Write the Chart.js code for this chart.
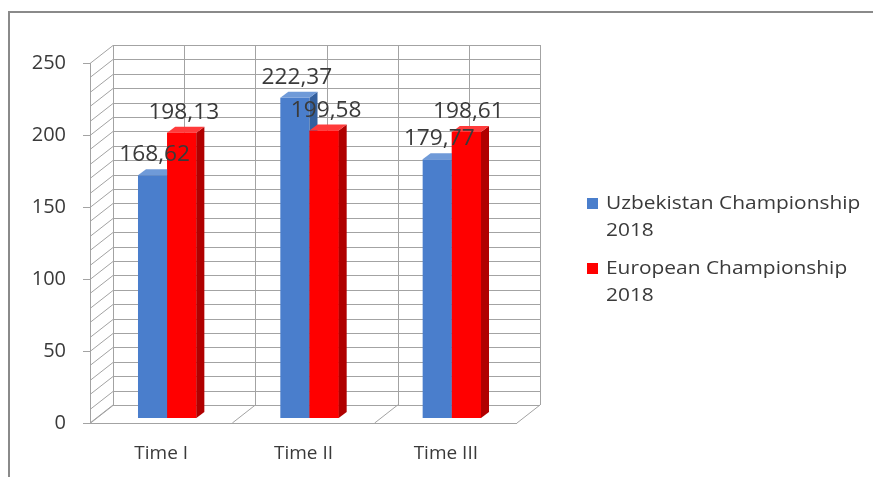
<!DOCTYPE html>
<html>
<head>
<meta charset="utf-8">
<script src="https://cdn.jsdelivr.net/npm/chart.js@4.4.0/dist/chart.umd.min.js"></script>
<style>
  html, body { margin: 0; padding: 0; background: #fff; }
  #wrap { width: 873px; height: 477px; }
</style>
</head>
<body>
<div id="wrap"><canvas id="chart" width="873" height="477"></canvas></div>
<script>
// Data
const categories = ["Time I", "Time II", "Time III"];
const uzbekistan2018 = [168.62, 222.37, 179.77];
const european2018 = [198.13, 199.58, 198.61];
const seriesLabels = [["Uzbekistan Championship", "2018"], ["European Championship", "2018"]];
const yMin = 0, yMax = 250, yMajor = 50, yMinor = 10;

// Styles
const FONT = "'Open Sans', sans-serif";
const TEXT = "#3a3a3a";
const GRID = "#a3a3a3";
const FRONT = ["#4a7ecc", "#ff0000"];
const SIDE = ["#34609e", "#b00000"];
const TOP = ["#6f9ad8", "#ff3b3b"];
// wall depth, bar plane shift, bar depth
const DX = 23, DY = -18;
const BX = 6, BY = -5;
const PX = 8, PY = -6;

const fmt = v => v.toFixed(2).replace(".", ",");

const line = (ctx, x1, y1, x2, y2) => {
  ctx.beginPath();
  ctx.moveTo(x1, y1);
  ctx.lineTo(x2, y2);
  ctx.stroke();
};

// text stretched a bit wider, like the original picture
const wideText = (ctx, t, x, y, sx) => {
  ctx.save();
  ctx.translate(x, y);
  ctx.scale(sx, 1);
  ctx.fillText(t, 0, 0);
  ctx.restore();
};

const box3d = {
  id: "box3d",
  beforeDraw(chart) {
    const ctx = chart.ctx;
    ctx.save();
    ctx.fillStyle = "#fff";
    ctx.fillRect(0, 0, chart.width, chart.height);
    // outer frame
    ctx.strokeStyle = "#8a8a8a";
    ctx.lineWidth = 2;
    line(ctx, 9, 12, 9, chart.height);
    line(ctx, 8, 12, chart.width, 12);
    ctx.restore();
  },
  beforeDatasetsDraw(chart) {
    const ctx = chart.ctx, ca = chart.chartArea, ys = chart.scales.y;
    const n = categories.length, w = (ca.right - ca.left) / n;
    const y0 = ys.getPixelForValue(yMin), yTop = ys.getPixelForValue(yMax);
    ctx.save();
    ctx.strokeStyle = GRID;
    ctx.lineWidth = 1;
    // back wall + left wall horizontals
    for (let v = yMin; v <= yMax; v += yMinor) {
      const y = Math.round(ys.getPixelForValue(v)) + 0.5;
      line(ctx, ca.left + DX, y + DY, ca.right + DX, y + DY);
      line(ctx, ca.left, y, ca.left + DX, y + DY);
    }
    // back wall verticals (category edges and centers)
    for (let k = 0; k <= 2 * n; k++) {
      const x = Math.round(ca.left + k * w / 2 + DX) + 0.5;
      line(ctx, x, yTop + DY, x, y0 + DY);
    }
    // floor
    line(ctx, ca.left, y0 + 0.5, ca.right, y0 + 0.5);
    for (let k = 0; k <= n; k++) {
      const x = ca.left + k * w;
      line(ctx, x, y0, x + DX, y0 + DY);
    }
    // front left edge and ticks
    line(ctx, ca.left + 0.5, yTop, ca.left + 0.5, y0);
    for (let v = yMin; v <= yMax; v += yMajor) {
      const y = Math.round(ys.getPixelForValue(v)) + 0.5;
      line(ctx, ca.left - 7, y, ca.left, y);
    }
    ctx.restore();
    ctx.save();
    ctx.translate(BX, BY);
  },
  afterDatasetsDraw(chart) {
    const ctx = chart.ctx;
    const metas = [chart.getDatasetMeta(0), chart.getDatasetMeta(1)];
    categories.forEach((c, i) => {
      metas.forEach((meta, d) => {
        const p = meta.data[i].getProps(["x", "y", "width", "base"], true);
        const x0 = p.x - p.width / 2, x1 = p.x + p.width / 2;
        if (d === 1) {
          ctx.fillStyle = FRONT[d];
          ctx.fillRect(x0, p.y, p.width, p.base - p.y);
        }
        ctx.fillStyle = SIDE[d];
        ctx.beginPath();
        ctx.moveTo(x1, p.y);
        ctx.lineTo(x1 + PX, p.y + PY);
        ctx.lineTo(x1 + PX, p.base + PY);
        ctx.lineTo(x1, p.base);
        ctx.closePath();
        ctx.fill();
        ctx.fillStyle = TOP[d];
        ctx.beginPath();
        ctx.moveTo(x0, p.y);
        ctx.lineTo(x0 + PX, p.y + PY);
        ctx.lineTo(x1 + PX, p.y + PY);
        ctx.lineTo(x1, p.y);
        ctx.closePath();
        ctx.fill();
      });
    });
    // value labels
    ctx.fillStyle = TEXT;
    ctx.font = "21px " + FONT;
    ctx.textAlign = "center";
    ctx.textBaseline = "middle";
    metas.forEach((meta, d) => {
      const vals = chart.data.datasets[d].data;
      meta.data.forEach((el, i) => {
        wideText(ctx, fmt(vals[i]), el.x + 2, el.y - 20, 1.08);
      });
    });
    ctx.restore();
  },
  afterDraw(chart) {
    const ctx = chart.ctx;
    ctx.save();
    ctx.font = "19px " + FONT;
    ctx.textBaseline = "middle";
    ctx.textAlign = "left";
    const tops = [204, 269];
    seriesLabels.forEach((lines, d) => {
      ctx.fillStyle = FRONT[d];
      ctx.fillRect(587, tops[d] - 6, 11, 11);
      ctx.fillStyle = TEXT;
      lines.forEach((t, j) => wideText(ctx, t, 606, tops[d] + j * 27, 1.1));
    });
    ctx.restore();
  }
};

new Chart(document.getElementById("chart"), {
  type: "bar",
  data: {
    labels: categories,
    datasets: [
      { label: seriesLabels[0].join(" "), data: uzbekistan2018, backgroundColor: FRONT[0], borderWidth: 0 },
      { label: seriesLabels[1].join(" "), data: european2018, backgroundColor: FRONT[1], borderWidth: 0 }
    ]
  },
  options: {
    responsive: false,
    animation: false,
    events: [],
    categoryPercentage: 0.41,
    barPercentage: 1.0,
    layout: { padding: { left: 0, right: 356, top: 63, bottom: 0 } },
    plugins: { legend: { display: false }, tooltip: { enabled: false } },
    scales: {
      x: {
        grid: { display: false, drawTicks: false },
        border: { display: false },
        ticks: { padding: 19, color: TEXT, font: { family: FONT, size: 19 } },
        afterFit: s => { s.height = 54; }
      },
      y: {
        min: yMin,
        max: yMax,
        grid: { display: false, drawTicks: false },
        border: { display: false },
        ticks: { stepSize: yMajor, padding: 24, color: TEXT, font: { family: FONT, size: 20 } },
        afterFit: s => { s.width = 90; }
      }
    }
  },
  plugins: [box3d]
});
</script>
</body>
</html>
